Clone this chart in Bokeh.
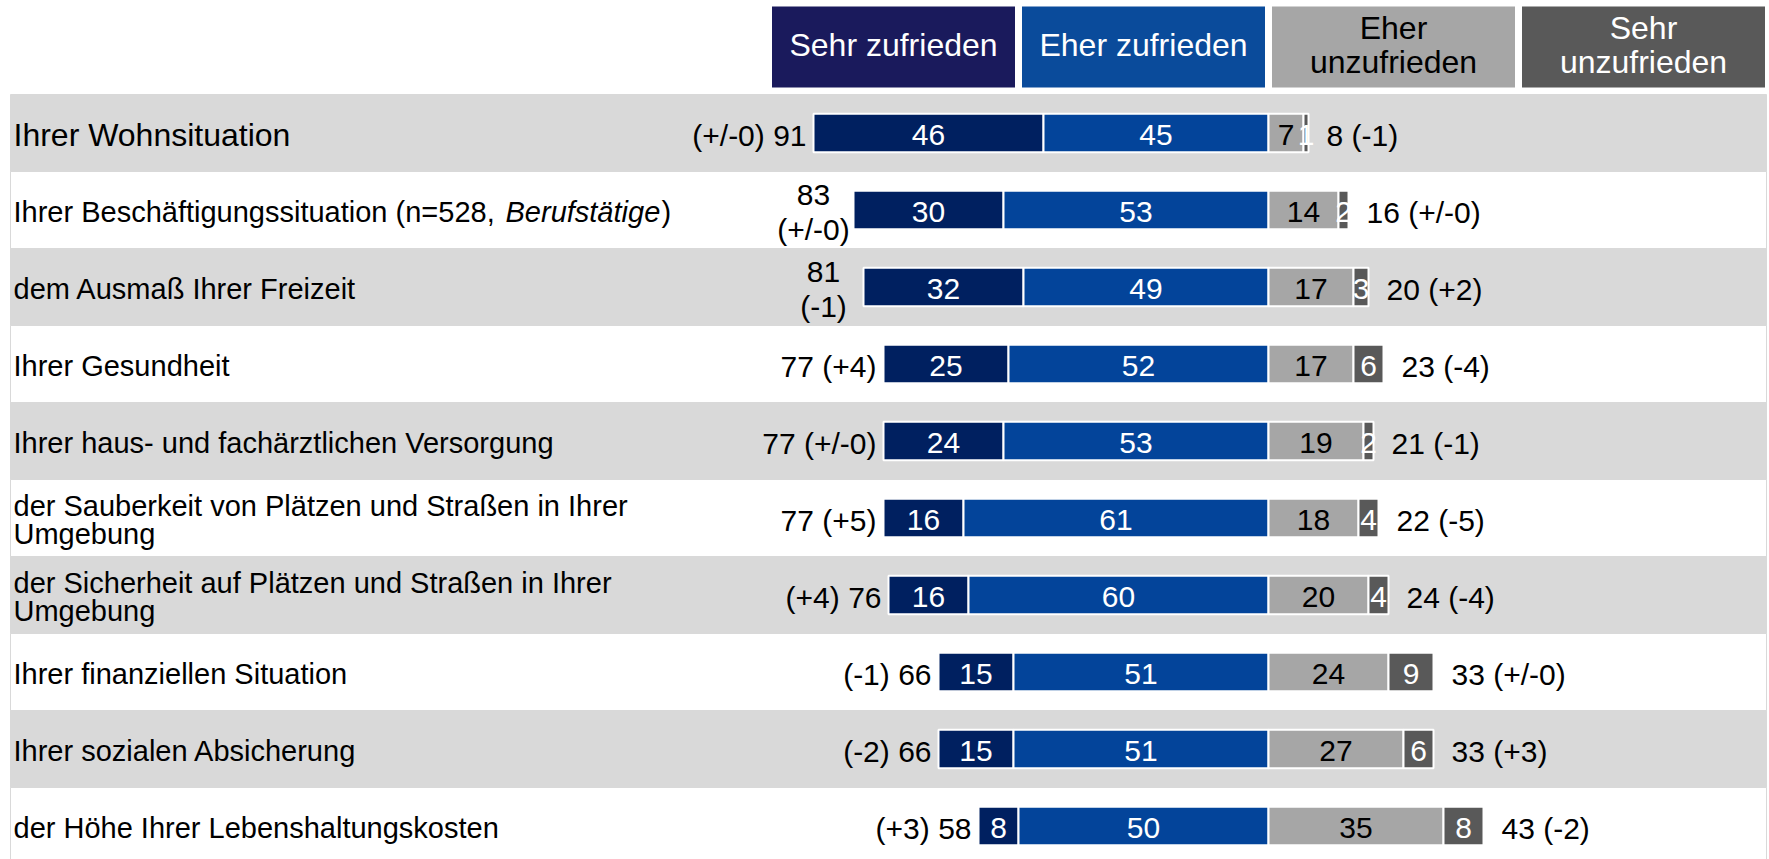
from bokeh.plotting import figure
from bokeh.models import Range1d, ColumnDataSource
from bokeh.core.properties import value
from bokeh.embed import file_html
from bokeh.resources import INLINE

# ---------------- data ----------------
categories = [
    "Ihrer Wohnsituation",
    "Ihrer Beschäftigungssituation (n=528, Berufstätige)",
    "dem Ausmaß Ihrer Freizeit",
    "Ihrer Gesundheit",
    "Ihrer haus- und fachärztlichen Versorgung",
    "der Sauberkeit von Plätzen und Straßen in Ihrer\nUmgebung",
    "der Sicherheit auf Plätzen und Straßen in Ihrer\nUmgebung",
    "Ihrer finanziellen Situation",
    "Ihrer sozialen Absicherung",
    "der Höhe Ihrer Lebenshaltungskosten",
]
sehr_zufrieden = [46, 30, 32, 25, 24, 16, 16, 15, 15, 8]
eher_zufrieden = [45, 53, 49, 52, 53, 61, 60, 51, 51, 50]
eher_unzufrieden = [7, 14, 17, 17, 19, 18, 20, 24, 27, 35]
sehr_unzufrieden = [1, 2, 3, 6, 2, 4, 4, 9, 6, 8]
left_labels = ["(+/-0) 91", "83\n(+/-0)", "81\n(-1)", "77 (+4)", "77 (+/-0)",
               "77 (+5)", "(+4) 76", "(-1) 66", "(-2) 66", "(+3) 58"]
right_labels = ["8 (-1)", "16 (+/-0)", "20 (+2)", "23 (-4)", "21 (-1)",
                "22 (-5)", "24 (-4)", "33 (+/-0)", "33 (+3)", "43 (-2)"]
header_labels = ["Sehr zufrieden", "Eher zufrieden", "Eher\nunzufrieden", "Sehr\nunzufrieden"]
italic_part = "Berufstätige"

# ---------------- styling ----------------
FONT = value("Liberation Sans")
HEADER_COLORS = ["#1a1a5c", "#0a4b9b", "#a6a6a6", "#595959"]
HEADER_TEXT = ["white", "white", "black", "white"]
SEG_COLORS = ["#002060", "#03449a", "#a6a6a6", "#595959"]
SEG_TEXT = ["white", "white", "black", "white"]
ROW_GRAY = "#d9d9d9"

W, H = 1769, 859
PX_PER_UNIT = 5.0
CENTER_PX = 1268
ROW_PX = 77.0
ROWS_TOP_PX = 94.0

x0 = -CENTER_PX / PX_PER_UNIT
x1 = (W - CENTER_PX) / PX_PER_UNIT
y_top = -ROWS_TOP_PX / ROW_PX
y_bot = (H - ROWS_TOP_PX) / ROW_PX

p = figure(width=W, height=H, output_backend="svg", toolbar_location=None,
           x_range=Range1d(x0, x1), y_range=Range1d(y_bot, y_top),
           min_border=0, outline_line_color=None)
p.axis.visible = False
p.grid.visible = False
p.background_fill_color = "white"
p.border_fill_color = "white"

n = len(categories)

# row backgrounds
row_left = x0 + 10 / PX_PER_UNIT
row_right = x0 + 1766 / PX_PER_UNIT
p.quad(left=[row_left] * n, right=[row_right] * n,
       top=[i for i in range(n)], bottom=[i + 1 for i in range(n)],
       fill_color=[ROW_GRAY if i % 2 == 0 else "white" for i in range(n)],
       line_color=ROW_GRAY, line_width=1)

# header boxes
hdr_top = y_top + 6 / ROW_PX
hdr_bot = -7 / ROW_PX
hl = [-100 + 50 * k + 0.7 for k in range(4)]
hr = [-50 + 50 * k - 0.7 for k in range(4)]
p.quad(left=hl, right=hr, top=[hdr_top] * 4, bottom=[hdr_bot] * 4,
       fill_color=HEADER_COLORS, line_color=None)
p.text(x=[(a + b) / 2 for a, b in zip(hl, hr)], y=[(hdr_top + hdr_bot) / 2 - 0.025] * 4,
       text=header_labels, text_align="center", text_baseline="middle",
       text_font=FONT, text_font_size="32px", text_color=HEADER_TEXT,
       text_line_height=0.93)

# stacked bars
series = [sehr_zufrieden, eher_zufrieden, eher_unzufrieden, sehr_unzufrieden]
BAR_H = 0.5
for s_idx in range(4):
    lefts, rights, ys, vals = [], [], [], []
    for i in range(n):
        a, b, c, d = (sehr_zufrieden[i], eher_zufrieden[i],
                      eher_unzufrieden[i], sehr_unzufrieden[i])
        bounds = [(-(a + b), -b), (-b, 0), (0, c), (c, c + d)]
        l, r = bounds[s_idx]
        lefts.append(l)
        rights.append(r)
        ys.append(i + 0.5)
        vals.append(str(series[s_idx][i]))
    src = ColumnDataSource(dict(left=lefts, right=rights, y=ys, v=vals,
                                xc=[(l + r) / 2 for l, r in zip(lefts, rights)]))
    p.hbar(y="y", left="left", right="right", height=BAR_H, source=src,
           fill_color=SEG_COLORS[s_idx], line_color="white", line_width=2)
    p.text(x="xc", y="y", text="v", source=src, text_align="center",
           text_baseline="middle", text_font=FONT, text_font_size="30px",
           text_color=SEG_TEXT[s_idx], y_offset=2)

# left (satisfied) totals
for i in range(n):
    start = -(sehr_zufrieden[i] + eher_zufrieden[i])
    lab = left_labels[i]
    if "\n" in lab:
        p.text(x=[start], y=[i + 0.5], text=[lab], x_offset=-40, y_offset=2,
               text_align="center", text_baseline="middle", text_font=FONT,
               text_font_size="30px", text_color="black", text_line_height=1.05)
    else:
        p.text(x=[start], y=[i + 0.5], text=[lab], x_offset=-7, y_offset=2,
               text_align="right", text_baseline="middle", text_font=FONT,
               text_font_size="30px", text_color="black")

# right (dissatisfied) totals
ends = [eher_unzufrieden[i] + sehr_unzufrieden[i] for i in range(n)]
p.text(x=ends, y=[i + 0.5 for i in range(n)], text=right_labels, x_offset=18,
       y_offset=2, text_align="left", text_baseline="middle", text_font=FONT,
       text_font_size="30px", text_color="black")

# category labels
lab_x = x0 + 13 / PX_PER_UNIT
for i, cat in enumerate(categories):
    size = "32px" if i == 0 else "29px"
    if italic_part in cat:
        pre, post = cat.split(italic_part)
        p.text(x=[lab_x], y=[i + 0.5], text=[pre], text_align="left", y_offset=2,
               text_baseline="middle", text_font=FONT, text_font_size=size,
               text_color="black")
        p.text(x=[lab_x], y=[i + 0.5], text=[italic_part], x_offset=492, y_offset=2,
               text_align="left", text_baseline="middle", text_font=FONT,
               text_font_size=size, text_font_style="italic", text_color="black")
        p.text(x=[lab_x], y=[i + 0.5], text=[post], x_offset=648, y_offset=2,
               text_align="left", text_baseline="middle", text_font=FONT,
               text_font_size=size, text_color="black")
    else:
        p.text(x=[lab_x], y=[i + 0.5], text=[cat], text_align="left", y_offset=2,
               text_baseline="middle", text_font=FONT, text_font_size=size,
               text_color="black", text_line_height=0.86)

open("out.html", "w").write(file_html(p, INLINE))
